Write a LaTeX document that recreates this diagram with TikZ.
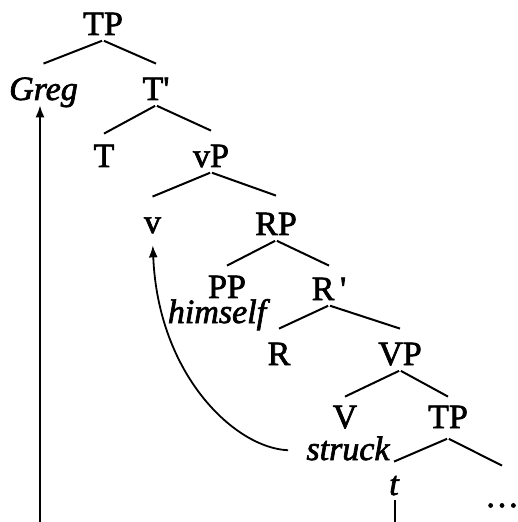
\documentclass[tikz,border=0pt]{standalone}
\usepackage{fontspec}
\setmainfont{Liberation Serif}[UprightFeatures={FakeBold=2}, ItalicFeatures={FakeBold=2}]
\usetikzlibrary{arrows.meta}

\begin{document}
\begin{tikzpicture}[x=0.5pt, y=-0.5pt,
    every node/.style={font=\fontsize{17}{20}\selectfont, inner sep=0pt, anchor=base,
      text height=11.5pt, text depth=2.5pt},
    branch/.style={line width=1pt, shorten <=0.5pt},
    move/.style={line width=0.9pt, -{Latex[length=6pt,width=4.5pt]}}]
  \useasboundingbox (0,0) rectangle (517,522);

  % --- labels ---
  \node (TPtop) at (103,35) {TP};
  \node (Greg) at (43.5,100) {\itshape Greg};
  \node (Tbar) at (156,100) {T\textquotesingle};
  \node (T) at (104,167) {T};
  \node (vP) at (211,167) {vP};
  \node (v) at (152.5,233) {v};
  \node (RP) at (276,235) {RP};
  \node[text depth=0pt] (PP) at (227,298) {PP};
  \node[text height=9pt] (himself) at (217,323) {\itshape himself};
  \node (Rbar) at (329,300) {R\,\textquotesingle};
  \node (R) at (279,365) {R};
  \node (VP) at (400,365) {VP};
  \node (V) at (345,428) {V};
  \node (TPlow) at (448,428) {TP};
  \node (struck) at (348,460) {\itshape struck};
  \node (t) at (394,495) {\itshape t};
  \node (dots) at (502,507) {\dots};

  % --- branches ---
  \draw[branch] (TPtop.south) -- ([yshift=6.5pt]Greg.north);
  \draw[branch] (TPtop.south) -- ([yshift=6.5pt]Tbar.north);
  \draw[branch] (Tbar.south) -- ([yshift=5pt]T.north);
  \draw[branch] (Tbar.south) -- ([yshift=6.5pt]vP.north);
  \draw[branch] (vP.south) -- ([yshift=6.5pt]v.north);
  \draw[branch] (vP.south) -- ([yshift=8pt]RP.north);
  \draw[branch] (RP.south) -- ([yshift=4.5pt]PP.north);
  \draw[branch] (RP.south) -- ([yshift=5.5pt]Rbar.north);
  \draw[branch] (Rbar.south) -- ([yshift=6.5pt]R.north);
  \draw[branch] (Rbar.south) -- ([yshift=6.5pt]VP.north);
  \draw[branch] (VP.south) -- ([yshift=4pt]V.north);
  \draw[branch] (VP.south) -- ([yshift=4pt]TPlow.north);
  \draw[branch] ([yshift=-2.5pt]TPlow.south) -- ([yshift=5pt]t.north);
  \draw[branch] ([yshift=-2.5pt]TPlow.south) -- ([yshift=9pt]dots.north);

  % --- movement ---
  \draw[move, shorten <=9pt, shorten >=3.5pt] (struck.west) .. controls (235,448) and (158,375) .. (v.south);
  \coordinate (gregfoot) at (40,522);
  \draw[move] (gregfoot) -- (Greg.south -| gregfoot);
  \coordinate (tfoot) at (395,522);
  \draw[line width=1pt] (t.south -| tfoot) -- (tfoot);
\end{tikzpicture}
\end{document}
